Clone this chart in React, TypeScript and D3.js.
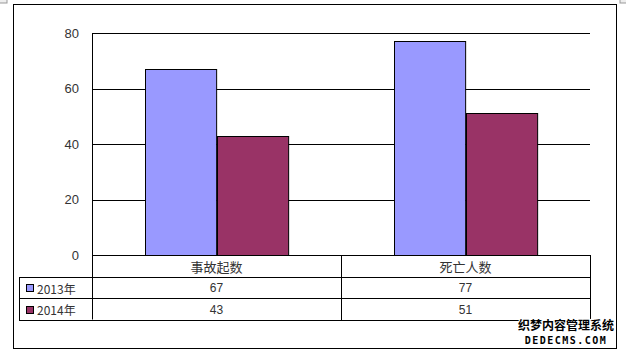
import React, { useRef, useEffect } from "react";
import * as d3 from "d3";

const categories = ["事故起数", "死亡人数"];
const years = ["2013年", "2014年"];
const values2013 = [67, 77];
const values2014 = [43, 51];
const yTicks = [0, 20, 40, 60, 80];
const colors = ["#9999FF", "#993366"];

const W = 626;
const H = 353;

export default function App() {
  const ref = useRef<SVGSVGElement>(null);

  useEffect(() => {
    if (!ref.current) return;
    const svg = d3.select(ref.current);
    svg.selectAll("*").remove();

    const plot = { left: 92, right: 590, top: 33, bottom: 255 };
    const rowH = 21.5;
    const legendLeft = 19;
    const numFont = "'Liberation Sans', Arial, sans-serif";
    const cjkFont = "'Noto Sans CJK SC', sans-serif";

    // outer frame
    svg.append("rect").attr("width", W).attr("height", H).attr("fill", "#fff");
    svg
      .append("rect")
      .attr("x", 13.5)
      .attr("y", 4.5)
      .attr("width", 603)
      .attr("height", 344)
      .attr("fill", "#fff")
      .attr("stroke", "#000");
    // selection handles in the corners
    svg.append("rect").attr("x", -1).attr("y", -4).attr("width", 8).attr("height", 7)
      .attr("fill", "#eee").attr("stroke", "#999");
    svg.append("rect").attr("x", 620).attr("y", -4).attr("width", 8).attr("height", 7)
      .attr("fill", "#eee").attr("stroke", "#999");

    const y = d3.scaleLinear().domain([0, 80]).range([plot.bottom, plot.top]);
    const x0 = d3.scaleBand().domain(categories).range([plot.left, plot.right]);
    const x1 = d3
      .scaleBand()
      .domain(years)
      .range([0, x0.bandwidth()])
      .paddingInner(0)
      .paddingOuter(0.75);

    // gridlines
    svg
      .append("g")
      .selectAll("line")
      .data(yTicks)
      .enter()
      .append("line")
      .attr("x1", plot.left)
      .attr("x2", plot.right)
      .attr("y1", (d) => Math.round(y(d)) + 0.5)
      .attr("y2", (d) => Math.round(y(d)) + 0.5)
      .attr("stroke", "#000");

    svg
      .append("line")
      .attr("x1", plot.left + 0.5)
      .attr("x2", plot.left + 0.5)
      .attr("y1", plot.top)
      .attr("y2", plot.bottom + rowH * 3)
      .attr("stroke", "#000");

    // tick labels
    svg
      .append("g")
      .selectAll("text")
      .data(yTicks)
      .enter()
      .append("text")
      .attr("x", 79)
      .attr("y", (d) => y(d))
      .attr("text-anchor", "end")
      .attr("dominant-baseline", "central")
      .attr("font-family", numFont)
      .attr("font-size", "13px")
      .attr("fill", "#333")
      .text((d) => d);

    // bars
    const series = [values2013, values2014];
    const bars: { cat: string; year: string; value: number; color: string }[] = [];
    series.forEach((vals, si) => {
      vals.forEach((v, ci) => {
        bars.push({ cat: categories[ci], year: years[si], value: v, color: colors[si] });
      });
    });

    svg
      .append("g")
      .selectAll("rect")
      .data(bars)
      .enter()
      .append("rect")
      .attr("x", (d) => Math.round((x0(d.cat) ?? 0) + (x1(d.year) ?? 0)) + 0.5)
      .attr("y", (d) => Math.round(y(d.value)) + 0.5)
      .attr("width", x1.bandwidth())
      .attr("height", (d) => Math.round(y(0)) - Math.round(y(d.value)))
      .attr("fill", (d) => d.color)
      .attr("stroke", "#000");

    // data table
    const t = svg.append("g").attr("fill", "none").attr("stroke", "#000");
    const rowY = [plot.bottom, plot.bottom + rowH, plot.bottom + rowH * 2, plot.bottom + rowH * 3];
    rowY.forEach((ry, i) => {
      t.append("line")
        .attr("x1", i === 0 ? plot.left : legendLeft)
        .attr("x2", plot.right)
        .attr("y1", Math.round(ry) + 0.5)
        .attr("y2", Math.round(ry) + 0.5);
    });
    t.append("line")
      .attr("x1", legendLeft + 0.5)
      .attr("x2", legendLeft + 0.5)
      .attr("y1", Math.round(rowY[1]))
      .attr("y2", Math.round(rowY[3]) + 1);
    categories.forEach((c) => {
      const xe = Math.round((x0(c) ?? 0) + x0.bandwidth()) + 0.5;
      t.append("line")
        .attr("x1", xe)
        .attr("x2", xe)
        .attr("y1", plot.bottom)
        .attr("y2", Math.round(rowY[3]) + 1);
    });

    svg
      .append("g")
      .selectAll("text")
      .data(categories)
      .enter()
      .append("text")
      .attr("x", (d) => (x0(d) ?? 0) + x0.bandwidth() / 2)
      .attr("y", plot.bottom + rowH / 2 + 1)
      .attr("text-anchor", "middle")
      .attr("dominant-baseline", "central")
      .attr("font-family", cjkFont)
      .attr("font-size", "13px")
      .attr("fill", "#333")
      .text((d) => d);

    series.forEach((vals, si) => {
      const cy = rowY[si + 1] + rowH / 2 + 1;
      svg
        .append("rect")
        .attr("x", 26.5)
        .attr("y", Math.round(cy - 4) + 0.5)
        .attr("width", 7)
        .attr("height", 7)
        .attr("fill", colors[si])
        .attr("stroke", "#000");
      svg
        .append("text")
        .attr("x", 37)
        .attr("y", cy)
        .attr("dominant-baseline", "central")
        .attr("font-family", cjkFont)
        .attr("font-size", "12px")
        .attr("fill", "#333")
        .text(years[si]);
      svg
        .append("g")
        .selectAll("text")
        .data(vals)
        .enter()
        .append("text")
        .attr("x", (_d, i) => (x0(categories[i]) ?? 0) + x0.bandwidth() / 2)
        .attr("y", cy)
        .attr("text-anchor", "middle")
        .attr("dominant-baseline", "central")
        .attr("font-family", numFont)
        .attr("font-size", "12px")
        .attr("fill", "#333")
        .text((d) => d);
    });

    // watermark
    const wm = svg.append("g").attr("font-weight", "700");
    wm.append("text")
      .attr("x", 566)
      .attr("y", 324)
      .attr("text-anchor", "middle")
      .attr("dominant-baseline", "central")
      .attr("font-family", cjkFont)
      .attr("font-size", "12px")
      .attr("fill", "#000")
      .attr("stroke", "#fff")
      .attr("stroke-width", 2)
      .attr("paint-order", "stroke")
      .text("织梦内容管理系统");
    wm.append("text")
      .attr("x", 566)
      .attr("y", 340)
      .attr("text-anchor", "middle")
      .attr("dominant-baseline", "central")
      .attr("font-family", "'DejaVu Sans Mono', monospace")
      .attr("font-size", "10px")
      .attr("letter-spacing", "1.5px")
      .attr("fill", "#000")
      .attr("stroke", "#fff")
      .attr("stroke-width", 2)
      .attr("paint-order", "stroke")
      .text("DEDECMS.COM");
  }, []);

  return (
    <div style={{ position: "absolute", left: 0, top: 0 }}>
      <svg ref={ref} width={W} height={H} style={{ display: "block" }} />
    </div>
  );
}
